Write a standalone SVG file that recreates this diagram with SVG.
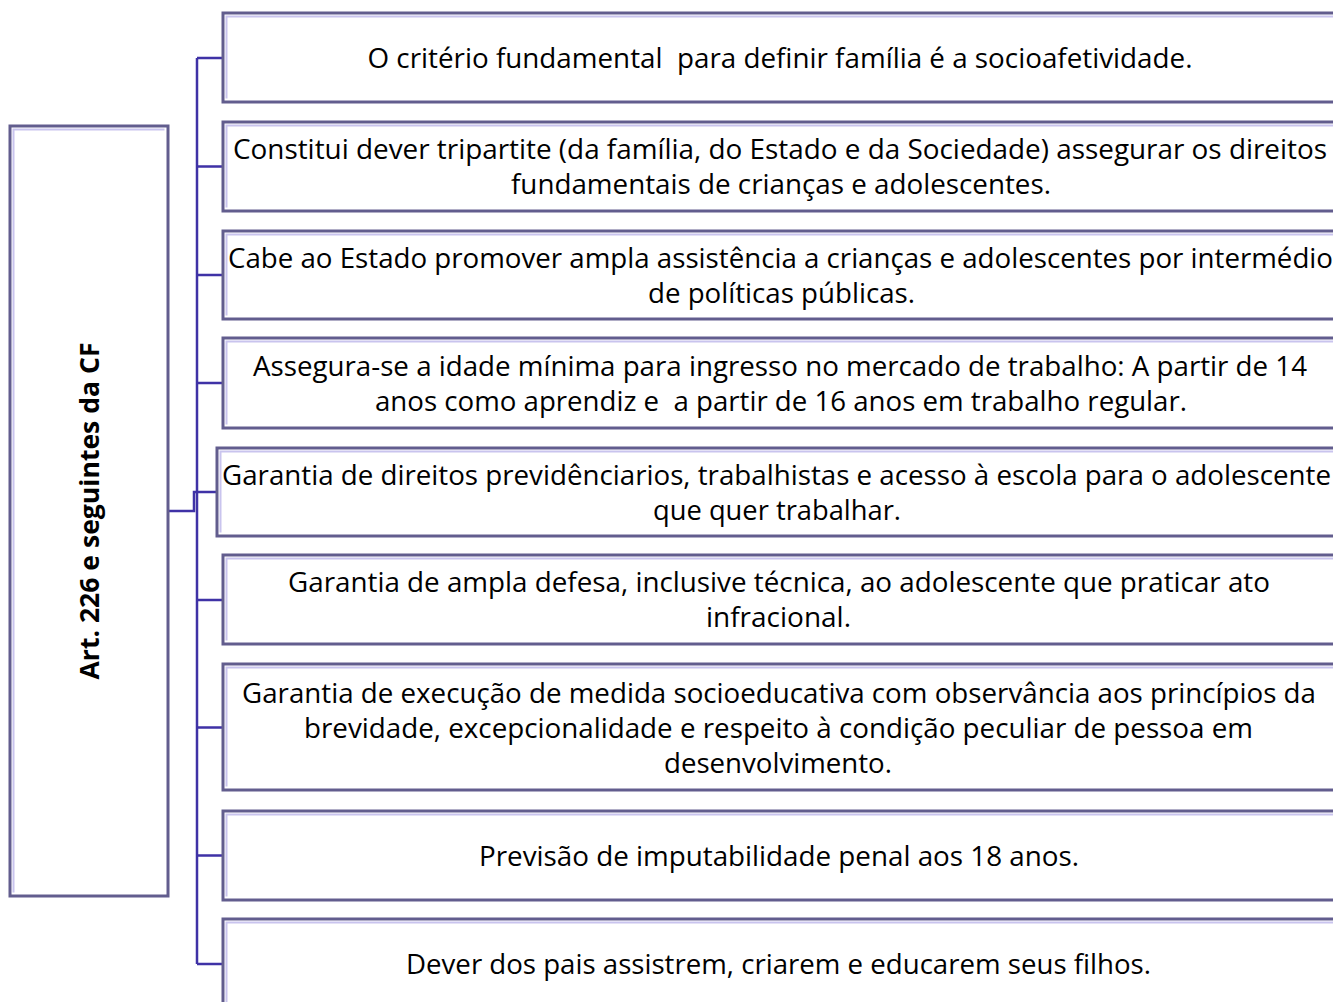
<svg xmlns="http://www.w3.org/2000/svg" width="1333" height="1002" viewBox="0 0 1333 1002">
<style>
.box{fill:#ffffff;stroke:#625d8e;stroke-width:3}
.inner{fill:none;stroke:#c9c4ee;stroke-width:2}
.t{font-family:"Open Sans","Noto Sans","Liberation Sans",sans-serif;font-size:27px;fill:#000000;text-anchor:middle}
.b{font-weight:bold}
.c{fill:none;stroke:#3f32a6;stroke-width:2.5}
</style>
<rect width="1333" height="1002" fill="#ffffff"/>
<g id="connectors">
<path class="c" d="M197 58 V964"/>
<path class="c" d="M197 58 H223 M197 166.5 H223 M197 275 H223 M197 383 H223 M197 600 H223 M197 727.5 H223 M197 855.5 H223 M197 964 H223"/>
<path class="c" d="M168 511 H194 V492 H217"/>
</g>
<g id="root">
<rect class="box" x="10" y="126" width="158" height="770"/>
<path class="inner" d="M13.5 892.5 V129.5 H164.5"/>
<text class="t b" transform="translate(99,511) rotate(-90)" textLength="337" lengthAdjust="spacingAndGlyphs">Art. 226 e seguintes da CF</text>
</g>
<g id="n1">
<rect class="box" x="223" y="13" width="1117" height="89"/>
<path class="inner" d="M226.5 98.5 V16.5 H1340"/>
<text class="t" x="780" y="67.5" xml:space="preserve" textLength="825" lengthAdjust="spacingAndGlyphs">O critério fundamental  para definir família é a socioafetividade.</text>
</g>
<g id="n2">
<rect class="box" x="223" y="122" width="1117" height="89"/>
<path class="inner" d="M226.5 207.5 V125.5 H1340"/>
<text class="t" x="780" y="159" textLength="1094" lengthAdjust="spacingAndGlyphs">Constitui dever tripartite (da família, do Estado e da Sociedade) assegurar os direitos</text>
<text class="t" x="781" y="194" textLength="540" lengthAdjust="spacingAndGlyphs">fundamentais de crianças e adolescentes.</text>
</g>
<g id="n3">
<rect class="box" x="223" y="231" width="1117" height="88"/>
<path class="inner" d="M226.5 315.5 V234.5 H1340"/>
<text class="t" x="780.5" y="267.5" textLength="1105" lengthAdjust="spacingAndGlyphs">Cabe ao Estado promover ampla assistência a crianças e adolescentes por intermédio</text>
<text class="t" x="781.5" y="302.5" textLength="267" lengthAdjust="spacingAndGlyphs">de políticas públicas.</text>
</g>
<g id="n4">
<rect class="box" x="223" y="338" width="1117" height="90"/>
<path class="inner" d="M226.5 424.5 V341.5 H1340"/>
<text class="t" x="780" y="375.5" textLength="1054" lengthAdjust="spacingAndGlyphs">Assegura-se a idade mínima para ingresso no mercado de trabalho: A partir de 14</text>
<text class="t" x="781" y="410.5" xml:space="preserve" textLength="812" lengthAdjust="spacingAndGlyphs">anos como aprendiz e  a partir de 16 anos em trabalho regular.</text>
</g>
<g id="n5">
<rect class="box" x="217" y="448" width="1123" height="88"/>
<path class="inner" d="M220.5 532.5 V451.5 H1340"/>
<text class="t" x="776.5" y="484.5" textLength="1109" lengthAdjust="spacingAndGlyphs">Garantia de direitos previdênciarios, trabalhistas e acesso à escola para o adolescente</text>
<text class="t" x="777" y="519.5" textLength="248" lengthAdjust="spacingAndGlyphs">que quer trabalhar.</text>
</g>
<g id="n6">
<rect class="box" x="223" y="555" width="1117" height="89"/>
<path class="inner" d="M226.5 640.5 V558.5 H1340"/>
<text class="t" x="779" y="592" textLength="982" lengthAdjust="spacingAndGlyphs">Garantia de ampla defesa, inclusive técnica, ao adolescente que praticar ato</text>
<text class="t" x="778.5" y="627" textLength="145" lengthAdjust="spacingAndGlyphs">infracional.</text>
</g>
<g id="n7">
<rect class="box" x="223" y="664" width="1117" height="126"/>
<path class="inner" d="M226.5 786.5 V667.5 H1340"/>
<text class="t" x="779" y="702.5" textLength="1074" lengthAdjust="spacingAndGlyphs">Garantia de execução de medida socioeducativa com observância aos princípios da</text>
<text class="t" x="778.5" y="737.5" textLength="949" lengthAdjust="spacingAndGlyphs">brevidade, excepcionalidade e respeito à condição peculiar de pessoa em</text>
<text class="t" x="778" y="772.5" textLength="228" lengthAdjust="spacingAndGlyphs">desenvolvimento.</text>
</g>
<g id="n8">
<rect class="box" x="223" y="811" width="1117" height="89"/>
<path class="inner" d="M226.5 896.5 V814.5 H1340"/>
<text class="t" x="779" y="865.5" textLength="600" lengthAdjust="spacingAndGlyphs">Previsão de imputabilidade penal aos 18 anos.</text>
</g>
<g id="n9">
<rect class="box" x="223" y="919" width="1117" height="100"/>
<path class="inner" d="M226.5 1010 V922.5 H1340"/>
<text class="t" x="778.5" y="974" textLength="745" lengthAdjust="spacingAndGlyphs">Dever dos pais assistrem, criarem e educarem seus filhos.</text>
</g>
</svg>
